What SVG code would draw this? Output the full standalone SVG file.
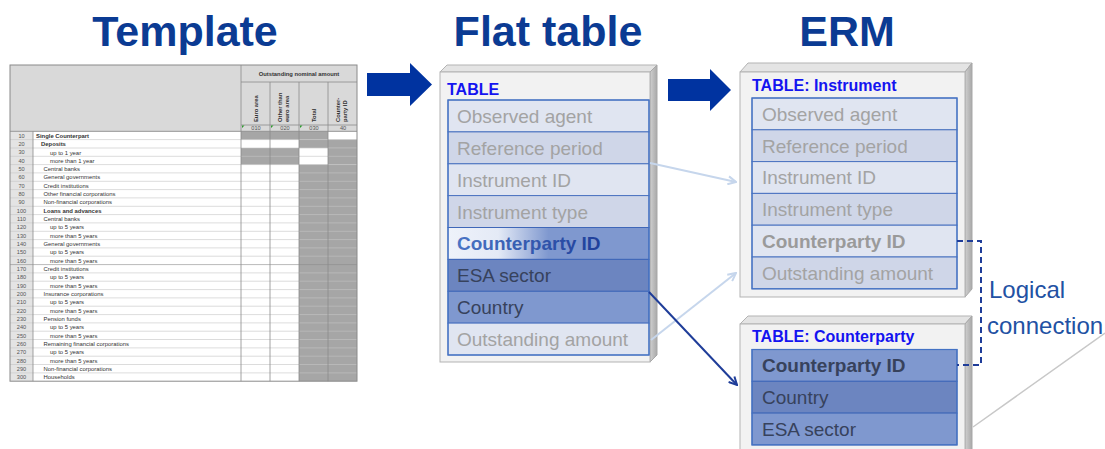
<svg xmlns="http://www.w3.org/2000/svg" width="1105" height="449" viewBox="0 0 1105 449">
<defs>
<style>
.title{font-family:"Liberation Sans",Arial,sans-serif;font-weight:bold;font-size:43px;fill:#0b3b93;text-anchor:middle}
.tl{font-family:"Liberation Sans",Arial,sans-serif;font-size:5.9px;fill:#333}
.tn{font-family:"Liberation Sans",Arial,sans-serif;font-size:5.6px;fill:#555;text-anchor:middle}
.th{font-family:"Liberation Sans",Arial,sans-serif;font-size:5.8px;font-weight:bold;fill:#333}
.b{font-weight:bold}
.hl{stroke:#c4c4c4;stroke-width:0.6}
.vl{stroke:#8a8a8a;stroke-width:0.8}
.g{fill:#a6a6a6}
.ttl{font-family:"Liberation Sans",Arial,sans-serif;font-weight:bold;font-size:16px;fill:#1414f0}
.ft{font-family:"Liberation Sans",Arial,sans-serif;font-size:19px;fill:#a3a3a3}
.fd{fill:#37425c}
.rl{fill:#e0e5f1;stroke:#4a72c0;stroke-width:1}
.rd{fill:#cfd6e8;stroke:#4a72c0;stroke-width:1}
.rb{fill:#7f98cf;stroke:#3f67b8;stroke-width:1}
.rbd{fill:#6c85c0;stroke:#3f67b8;stroke-width:1}
.front{fill:#f2f2f2;stroke:#b3b3b3;stroke-width:1}
.top{fill:#e4e4e4;stroke:#b3b3b3;stroke-width:1}
.side{fill:url(#sideG);stroke:#a8a8a8;stroke-width:1}
.big{fill:#0033a0}
.lt{fill:none;stroke:#c6d6ec;stroke-width:2}
.dk{fill:none;stroke:#1f3d99;stroke-width:2}
.lc{font-family:"Liberation Sans",Arial,sans-serif;font-size:24px;fill:#2251a3}
</style>
<linearGradient id="sideG" x1="0" y1="0" x2="1" y2="0">
<stop offset="0" stop-color="#d0d0d0"/><stop offset="1" stop-color="#a9a9a9"/>
</linearGradient>
<linearGradient id="cpG" x1="0" y1="0" x2="1" y2="0">
<stop offset="0" stop-color="#eef2fa"/><stop offset="0.25" stop-color="#e4eaf6"/><stop offset="0.5" stop-color="#7f98cf"/><stop offset="1" stop-color="#7f98cf"/>
</linearGradient>
<linearGradient id="cpT" x1="0" y1="0" x2="1" y2="0">
<stop offset="0" stop-color="#4a74c4"/><stop offset="1" stop-color="#1f3f9a"/>
</linearGradient>
<marker id="aL" viewBox="0 0 10 10" refX="9" refY="5" markerWidth="5" markerHeight="5" orient="auto" markerUnits="strokeWidth">
<path d="M1,1 L9,5 L1,9" fill="none" stroke="#c6d6ec" stroke-width="2"/>
</marker>
<marker id="aD" viewBox="0 0 10 10" refX="9" refY="5" markerWidth="5" markerHeight="5" orient="auto" markerUnits="strokeWidth">
<path d="M1,1 L9,5 L1,9" fill="none" stroke="#1f3d99" stroke-width="2"/>
</marker>
</defs>
<rect width="1105" height="449" fill="#ffffff"/>

<g id="titles">
<text class="title" x="185" y="46">Template</text>
<text class="title" x="548" y="46">Flat table</text>
<text class="title" x="847" y="46">ERM</text>
</g>

<g id="template">
<rect x="10" y="65" width="347" height="67" fill="#d9d9d9"/>
<rect x="10" y="132" width="23" height="249" fill="#e4e4e4"/>
<rect x="33" y="132" width="208" height="249" fill="#ffffff"/>
<rect x="241" y="132" width="58" height="249" fill="#ffffff"/>
<rect class="g" x="241" y="131.3" width="87" height="8.33"/>
<rect class="g" x="299" y="139.6" width="58" height="8.33"/>
<rect class="g" x="241" y="148" width="58" height="16.66"/>
<rect class="g" x="328" y="148" width="29" height="16.66"/>
<rect class="g" x="299" y="164.6" width="58" height="216.6"/>
<line class="vl" x1="241" y1="82" x2="357" y2="82"/>
<line class="vl" x1="241" y1="125" x2="357" y2="125"/>
<line class="vl" x1="10" y1="131.3" x2="357" y2="131.3"/>
<g id="rowlines">
<line class="hl" x1="10" y1="139.6" x2="357" y2="139.6"/><line class="hl" x1="10" y1="148" x2="357" y2="148"/>
<line class="hl" x1="10" y1="156.3" x2="357" y2="156.3"/><line class="hl" x1="10" y1="164.6" x2="357" y2="164.6"/>
<line class="hl" x1="10" y1="172.9" x2="357" y2="172.9"/><line class="hl" x1="10" y1="181.3" x2="357" y2="181.3"/>
<line class="hl" x1="10" y1="189.6" x2="357" y2="189.6"/><line class="hl" x1="10" y1="197.9" x2="357" y2="197.9"/>
<line class="hl" x1="10" y1="206.3" x2="357" y2="206.3"/><line class="hl" x1="10" y1="214.6" x2="357" y2="214.6"/>
<line class="hl" x1="10" y1="222.9" x2="357" y2="222.9"/><line class="hl" x1="10" y1="231.3" x2="357" y2="231.3"/>
<line class="hl" x1="10" y1="239.6" x2="357" y2="239.6"/><line class="hl" x1="10" y1="247.9" x2="357" y2="247.9"/>
<line class="hl" x1="10" y1="256.2" x2="357" y2="256.2"/><line class="hl" x1="10" y1="264.6" x2="357" y2="264.6" style="stroke:#8a8a8a"/>
<line class="hl" x1="10" y1="272.9" x2="357" y2="272.9"/><line class="hl" x1="10" y1="281.2" x2="357" y2="281.2"/>
<line class="hl" x1="10" y1="289.6" x2="357" y2="289.6"/><line class="hl" x1="10" y1="297.9" x2="357" y2="297.9"/>
<line class="hl" x1="10" y1="306.2" x2="357" y2="306.2"/><line class="hl" x1="10" y1="314.6" x2="357" y2="314.6"/>
<line class="hl" x1="10" y1="322.9" x2="357" y2="322.9"/><line class="hl" x1="10" y1="331.2" x2="357" y2="331.2"/>
<line class="hl" x1="10" y1="339.5" x2="357" y2="339.5"/><line class="hl" x1="10" y1="347.9" x2="357" y2="347.9"/>
<line class="hl" x1="10" y1="356.2" x2="357" y2="356.2"/><line class="hl" x1="10" y1="364.5" x2="357" y2="364.5"/>
<line class="hl" x1="10" y1="372.9" x2="357" y2="372.9"/>
</g>
<line class="vl" x1="33" y1="131.3" x2="33" y2="381.2"/>
<line class="vl" x1="241" y1="65" x2="241" y2="381.2"/>
<line class="vl" x1="270" y1="82" x2="270" y2="381.2"/>
<line class="vl" x1="299" y1="82" x2="299" y2="381.2"/>
<line class="vl" x1="328" y1="82" x2="328" y2="381.2"/>
<rect x="10" y="65" width="347" height="316.2" fill="none" stroke="#8a8a8a" stroke-width="1"/>
<text class="th" x="299" y="75.5" text-anchor="middle">Outstanding nominal amount</text>
<text class="th" transform="translate(258,122) rotate(-90)">Euro area</text>
<text class="th" transform="translate(282,122) rotate(-90)">Other than</text>
<text class="th" transform="translate(288.5,122) rotate(-90)">euro area</text>
<text class="th" transform="translate(316,122) rotate(-90)">Total</text>
<text class="th" transform="translate(340,122) rotate(-90)">Counter-</text>
<text class="th" transform="translate(346.5,122) rotate(-90)">party ID</text>
<text class="tn" x="256" y="130.3">010</text>
<text class="tn" x="285" y="130.3">020</text>
<text class="tn" x="314" y="130.3">030</text>
<text class="tn" x="343" y="130.3">40</text>
<path d="M242,125.5 h2.5 l-2.5,2.5z M271,125.5 h2.5 l-2.5,2.5z M300,125.5 h2.5 l-2.5,2.5z" fill="#2a9a2a"/>
<g class="tn">
<text x="21.5" y="137.6">10</text><text x="21.5" y="145.9">20</text><text x="21.5" y="154.3">30</text>
<text x="21.5" y="162.6">40</text><text x="21.5" y="170.9">50</text><text x="21.5" y="179.2">60</text>
<text x="21.5" y="187.6">70</text><text x="21.5" y="195.9">80</text><text x="21.5" y="204.2">90</text>
<text x="21.5" y="212.6">100</text><text x="21.5" y="220.9">110</text><text x="21.5" y="229.2">120</text>
<text x="21.5" y="237.6">130</text><text x="21.5" y="245.9">140</text><text x="21.5" y="254.2">150</text>
<text x="21.5" y="262.5">160</text><text x="21.5" y="270.9">170</text><text x="21.5" y="279.2">180</text>
<text x="21.5" y="287.5">190</text><text x="21.5" y="295.9">200</text><text x="21.5" y="304.2">210</text>
<text x="21.5" y="312.5">220</text><text x="21.5" y="320.9">230</text><text x="21.5" y="329.2">240</text>
<text x="21.5" y="337.5">250</text><text x="21.5" y="345.8">260</text><text x="21.5" y="354.2">270</text>
<text x="21.5" y="362.5">280</text><text x="21.5" y="370.8">290</text><text x="21.5" y="379.2">300</text>
</g>
<g class="tl">
<text class="b" x="36" y="137.8">Single Counterpart</text>
<text class="b" x="41" y="146.1">Deposits</text>
<text x="50" y="154.5">up to 1 year</text>
<text x="50" y="162.8">more than 1 year</text>
<text x="43.5" y="171.1">Central banks</text>
<text x="43.5" y="179.4">General governments</text>
<text x="43.5" y="187.8">Credit institutions</text>
<text x="43.5" y="196.1">Other financial corporations</text>
<text x="43.5" y="204.4">Non-financial corporations</text>
<text class="b" x="43.5" y="212.8">Loans and advances</text>
<text x="43.5" y="221.1">Central banks</text>
<text x="50" y="229.4">up to 5 years</text>
<text x="50" y="237.8">more than 5 years</text>
<text x="43.5" y="246.1">General governments</text>
<text x="50" y="254.4">up to 5 years</text>
<text x="50" y="262.7">more than 5 years</text>
<text x="43.5" y="271.1">Credit institutions</text>
<text x="50" y="279.4">up to 5 years</text>
<text x="50" y="287.7">more than 5 years</text>
<text x="43.5" y="296.1">Insurance corporations</text>
<text x="50" y="304.4">up to 5 years</text>
<text x="50" y="312.7">more than 5 years</text>
<text x="43.5" y="321.1">Pension funds</text>
<text x="50" y="329.4">up to 5 years</text>
<text x="50" y="337.7">more than 5 years</text>
<text x="43.5" y="346">Remaining financial corporations</text>
<text x="50" y="354.4">up to 5 years</text>
<text x="50" y="362.7">more than 5 years</text>
<text x="43.5" y="371">Non-financial corporations</text>
<text x="43.5" y="379.4">Households</text>
</g>
</g>

<g id="bigarrows">
<polygon class="big" points="367,73 410,73 410,63 432,84.5 410,106 410,96 367,96"/>
<polygon class="big" points="668,79 710,79 710,69 731,90 710,111 710,101 668,101"/>
</g>

<g id="flat-table">
<polygon class="top" points="440,72 447,65 657,65 650,72"/>
<polygon class="side" points="650,72 657,65 657,355 650,362"/>
<rect class="front" x="440" y="72" width="210" height="290"/>
<text class="ttl" x="447" y="95">TABLE</text>
<rect class="rl" x="448" y="100" width="201" height="31.9"/>
<rect class="rd" x="448" y="131.9" width="201" height="31.9"/>
<rect class="rl" x="448" y="163.8" width="201" height="31.9"/>
<rect class="rd" x="448" y="195.6" width="201" height="31.9"/>
<rect x="448" y="227.5" width="201" height="31.9" fill="url(#cpG)" stroke="#3f67b8"/>
<rect class="rbd" x="448" y="259.4" width="201" height="31.9"/>
<rect class="rb" x="448" y="291.3" width="201" height="31.9"/>
<rect class="rl" x="448" y="323.1" width="201" height="31.9"/>
<rect x="448" y="100" width="201" height="255" fill="none" stroke="#4472c4" stroke-width="1.2"/>
<text class="ft" x="457" y="122.9">Observed agent</text>
<text class="ft" x="457" y="154.8">Reference period</text>
<text class="ft" x="457" y="186.7">Instrument ID</text>
<text class="ft" x="457" y="218.5">Instrument type</text>
<text class="ft b" x="457" y="250.4" style="fill:url(#cpT)">Counterparty ID</text>
<text class="ft fd" x="457" y="282.3">ESA sector</text>
<text class="ft fd" x="457" y="314.2">Country</text>
<text class="ft" x="457" y="346">Outstanding amount</text>
</g>

<g id="erm-instrument">
<polygon class="top" points="740,72 748,63 972,63 965,72"/>
<polygon class="side" points="965,72 972,63 972,289 965,297"/>
<rect class="front" x="740" y="72" width="225" height="225"/>
<text class="ttl" x="752" y="91">TABLE: Instrument</text>
<rect class="rl" x="752" y="98" width="205" height="31.8"/>
<rect class="rd" x="752" y="129.8" width="205" height="31.8"/>
<rect class="rl" x="752" y="161.6" width="205" height="31.8"/>
<rect class="rd" x="752" y="193.4" width="205" height="31.8"/>
<rect class="rl" x="752" y="225.2" width="205" height="31.8"/>
<rect class="rd" x="752" y="257" width="205" height="31.8"/>
<rect x="752" y="98" width="205" height="190.8" fill="none" stroke="#4472c4" stroke-width="1.2"/>
<text class="ft" x="762" y="120.7">Observed agent</text>
<text class="ft" x="762" y="152.5">Reference period</text>
<text class="ft" x="762" y="184.3">Instrument ID</text>
<text class="ft" x="762" y="216.1">Instrument type</text>
<text class="ft b" x="762" y="247.9" style="fill:#9a9a9a">Counterparty ID</text>
<text class="ft" x="762" y="279.7">Outstanding amount</text>
</g>

<g id="erm-counterparty">
<polygon class="top" points="740,324 748,316 972,316 965,324"/>
<polygon class="side" points="965,324 972,316 972,460 965,460"/>
<rect class="front" x="740" y="324" width="225" height="136"/>
<text class="ttl" x="752" y="342">TABLE: Counterparty</text>
<rect class="rb" x="752" y="349.5" width="205" height="31.8"/>
<rect class="rbd" x="752" y="381.3" width="205" height="31.8"/>
<rect class="rb" x="752" y="413.1" width="205" height="31.8"/>
<rect x="752" y="349.5" width="205" height="95.4" fill="none" stroke="#4472c4" stroke-width="1.2"/>
<text class="ft fd b" x="762" y="372.2">Counterparty ID</text>
<text class="ft fd" x="762" y="404">Country</text>
<text class="ft fd" x="762" y="435.8">ESA sector</text>
</g>

<g id="connectors">
<line class="lt" x1="650" y1="163" x2="736" y2="182" marker-end="url(#aL)"/>
<line class="lt" x1="651" y1="340" x2="736" y2="273" marker-end="url(#aL)"/>
<line class="dk" x1="649" y1="292" x2="737" y2="385" marker-end="url(#aD)"/>
<path class="dk" d="M957,241 H981 V365 H957" stroke-dasharray="6,4"/>
<line x1="973" y1="427" x2="1105" y2="333" stroke="#c8c8c8" stroke-width="1.5"/>
</g>

<g id="logical-label">
<text class="lc" x="989" y="298">Logical</text>
<text class="lc" x="987" y="334">connection</text>
</g>
</svg>
